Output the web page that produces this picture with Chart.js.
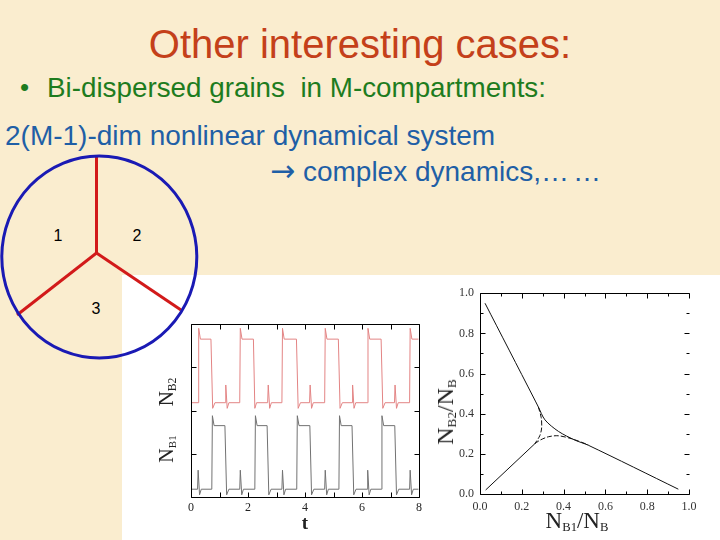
<!DOCTYPE html>
<html>
<head>
<meta charset="utf-8">
<script src="https://cdn.jsdelivr.net/npm/chart.js@4/dist/chart.umd.min.js"></script>
<style>
  html,body{margin:0;padding:0;}
  body{width:720px;height:540px;position:relative;overflow:hidden;background:#faedcf;font-family:"Liberation Sans",Arial,sans-serif;}
  .t{position:absolute;white-space:pre;line-height:1;}
  #white{position:absolute;left:122px;top:275px;width:598px;height:265px;background:#fff;}
  .serif{font-family:"Liberation Serif","DejaVu Serif",serif;color:#222;}
  .rot{position:absolute;transform:translate(-50%,-50%) rotate(-90deg);white-space:nowrap;line-height:1;}
  .ctr{position:absolute;transform:translate(-50%,-50%);white-space:nowrap;line-height:1;}
  sub{font-size:55%;vertical-align:baseline;position:relative;top:0.25em;}
  canvas{position:absolute;}
</style>
</head>
<body>
<div id="white"></div>

<div class="t" style="left:0;width:720px;text-align:center;top:24px;font-size:40px;color:#c4401a;">Other interesting cases:</div>
<div class="t" style="left:20px;top:74px;font-size:26px;color:#1e7c1e;">•</div>
<div class="t" style="left:47px;top:74px;font-size:27.8px;color:#1e7c1e;">Bi-dispersed grains  in M-compartments:</div>
<div class="t" style="left:5px;top:122px;font-size:28px;color:#1f5fa6;">2(M-1)-dim nonlinear dynamical system</div>
<div class="t" style="left:270px;top:157px;font-size:28px;color:#1f5fa6;"><span style="font-family:'DejaVu Sans';font-size:30px;line-height:28px;">→</span> complex dynamics,…<span style="font-size:14px;"> </span>…</div>

<svg style="position:absolute;left:0;top:0" width="720" height="540">
  <line x1="96.5" y1="157" x2="96.5" y2="253" stroke="#d21a1a" stroke-width="3"/>
  <line x1="96.5" y1="253" x2="17" y2="315" stroke="#d21a1a" stroke-width="3"/>
  <line x1="96.5" y1="253" x2="181" y2="310" stroke="#d21a1a" stroke-width="3"/>
  <ellipse cx="99.3" cy="257" rx="97.5" ry="101" fill="none" stroke="#1a1ab4" stroke-width="3"/>
  <text x="58" y="241" font-family="Liberation Sans, Arial" font-size="16" text-anchor="middle" fill="#000">1</text>
  <text x="137" y="241" font-family="Liberation Sans, Arial" font-size="16" text-anchor="middle" fill="#000">2</text>
  <text x="96" y="314" font-family="Liberation Sans, Arial" font-size="16" text-anchor="middle" fill="#000">3</text>
</svg>

<canvas id="c1" width="280" height="225" style="left:150px;top:315px;width:280px;height:225px;"></canvas>
<canvas id="c2" width="290" height="260" style="left:430px;top:280px;width:290px;height:260px;"></canvas>

<div class="rot serif" style="left:166px;top:392px;font-size:21px;">N<sub>B2</sub></div>
<div class="rot serif" style="left:166px;top:449px;font-size:20px;">N<sub>B1</sub></div>
<div class="ctr serif" style="left:305px;top:522px;font-size:19px;font-weight:bold;">t</div>
<div class="rot serif" style="left:445px;top:412px;font-size:24px;">N<sub>B2</sub>/N<sub>B</sub></div>
<div class="ctr serif" style="left:577px;top:520px;font-size:23px;">N<sub>B1</sub>/N<sub>B</sub></div>

<script>
// ---- left chart: time series (t, N_B2 in red, N_B1 in gray) ----
const timeTicks = [0, 2, 4, 6, 8];
const redT = [0,
  0.25,0.27,0.33, 0.70,0.76,0.84, 1.20,1.22,1.27,1.33,
  1.71,1.73,1.79, 2.19,2.24,2.30, 2.69,2.71,2.76,2.82,
  3.19,3.21,3.27, 3.70,3.76,3.84, 4.16,4.18,4.23,4.29,
  4.69,4.71,4.77, 5.17,5.23,5.31, 5.65,5.67,5.72,5.78,
  6.19,6.21,6.27, 6.67,6.73,6.81, 7.14,7.16,7.21,7.27,
  7.67,7.69,7.75, 7.98];
const redV = [2.18,
  2.18,3.90,3.65, 3.65,2.05,2.18, 2.18,2.59,2.05,2.18,
  2.18,3.90,3.65, 3.65,2.05,2.18, 2.18,2.59,2.05,2.18,
  2.18,3.90,3.65, 3.65,2.05,2.18, 2.18,2.59,2.05,2.18,
  2.18,3.90,3.65, 3.65,2.05,2.18, 2.18,2.59,2.05,2.18,
  2.18,3.90,3.65, 3.65,2.05,2.18, 2.18,2.59,2.05,2.18,
  2.18,3.90,3.65, 3.65];
const grayT = [0,
  0.23,0.25,0.30,0.36, 0.73,0.75,0.81, 1.19,1.25,1.33,
  1.71,1.73,1.78,1.84, 2.24,2.26,2.32, 2.67,2.73,2.81,
  3.19,3.21,3.26,3.32, 3.71,3.73,3.79, 4.17,4.23,4.31,
  4.69,4.71,4.76,4.82, 5.19,5.21,5.27, 5.65,5.71,5.79,
  6.18,6.20,6.25,6.31, 6.68,6.70,6.76, 7.15,7.21,7.29,
  7.67,7.69,7.74,7.80, 7.98];
const grayV = [0.18,
  0.18,0.62,0.05,0.18, 0.18,1.88,1.65, 1.65,0.05,0.18,
  0.18,0.62,0.05,0.18, 0.18,1.88,1.65, 1.65,0.05,0.18,
  0.18,0.62,0.05,0.18, 0.18,1.88,1.65, 1.65,0.05,0.18,
  0.18,0.62,0.05,0.18, 0.18,1.88,1.65, 1.65,0.05,0.18,
  0.18,0.62,0.05,0.18, 0.18,1.88,1.65, 1.65,0.05,0.18,
  0.18,0.62,0.05,0.18, 0.18];

// ---- right chart: phase portrait N_B2/N_B vs N_B1/N_B ----
const fracTicks = [0.0, 0.2, 0.4, 0.6, 0.8, 1.0];
const upperX = [0.024, 0.255, 0.279, 0.311, 0.375, 0.455, 0.518, 0.949];
const upperY = [0.950, 0.483, 0.434, 0.369, 0.312, 0.268, 0.243, 0.024];
const lowerX = [0.027, 0.262];
const lowerY = [0.020, 0.250];
const arcX   = [0.262, 0.287, 0.327, 0.375, 0.439, 0.518];
const arcY   = [0.250, 0.268, 0.285, 0.290, 0.275, 0.245];
const cuspX  = [0.279, 0.293, 0.295, 0.286, 0.262];
const cuspY  = [0.434, 0.380, 0.330, 0.290, 0.250];

const zip = (xs, ys) => xs.map((x, i) => ({x, y: ys[i]}));

const boxTicks = {
  id: 'boxTicks',
  afterDraw(chart, args, o) {
    const {ctx, chartArea: a, scales: {x, y}} = chart;
    ctx.save();
    ctx.strokeStyle = '#000';
    ctx.lineWidth = 1;
    const L = Math.round(a.left) + 0.5, R = Math.round(a.right) + 0.5,
          T = Math.round(a.top) + 0.5, B = Math.round(a.bottom) + 0.5;
    ctx.beginPath();
    if (o.box.includes('l')) { ctx.moveTo(L, T); ctx.lineTo(L, B); }
    if (o.box.includes('r')) { ctx.moveTo(R, T); ctx.lineTo(R, B); }
    if (o.box.includes('t')) { ctx.moveTo(L, T); ctx.lineTo(R, T); }
    if (o.box.includes('b')) { ctx.moveTo(L, B); ctx.lineTo(R, B); }
    let i = 0;
    for (let v = x.min; v <= x.max + 1e-9; v += o.xStep, i++) {
      const px = Math.round(x.getPixelForValue(v)) + 0.5;
      const len = (i % o.majorEvery === 0) ? o.major : o.minor;
      ctx.moveTo(px, B); ctx.lineTo(px, B - len);
      ctx.moveTo(px, T); ctx.lineTo(px, T + len);
    }
    i = 0;
    for (let v = y.min; v <= y.max + 1e-9; v += o.yStep, i++) {
      const py = Math.round(y.getPixelForValue(v)) + 0.5;
      const len = (i % o.majorEvery === 0) ? o.major : o.minor;
      ctx.moveTo(L, py); ctx.lineTo(L + len, py);
      ctx.moveTo(R, py); ctx.lineTo(R - len, py);
    }
    ctx.stroke();
    ctx.restore();
  }
};

const serif = {family: '"Liberation Serif", "DejaVu Serif", serif'};

new Chart(document.getElementById('c1'), {
  type: 'scatter',
  data: {
    datasets: [
      {data: zip(redT, redV), showLine: true, borderColor: '#e38484', borderWidth: 1, pointRadius: 0, tension: 0},
      {data: zip(grayT, grayV), showLine: true, borderColor: '#727272', borderWidth: 1, pointRadius: 0, tension: 0}
    ]
  },
  plugins: [boxTicks],
  options: {
    responsive: false, animation: false,
    layout: {padding: {top: 9, right: 11, left: 0, bottom: 0}},
    plugins: {legend: {display: false}, tooltip: {enabled: false},
      boxTicks: {box: 'lrtb', xStep: 1, yStep: 1, majorEvery: 1, major: 5, minor: 5}},
    scales: {
      x: {type: 'linear', min: 0, max: 8,
        afterFit: s => { s.height = 43; },
        afterBuildTicks: s => { s.ticks = timeTicks.map(v => ({value: v})); },
        border: {display: false}, grid: {display: false, drawTicks: false},
        ticks: {padding: 4, color: '#222', font: {...serif, size: 12}, maxRotation: 0}},
      y: {type: 'linear', min: 0, max: 4,
        afterFit: s => { s.width = 41; },
        border: {display: false}, grid: {display: false, drawTicks: false},
        ticks: {display: false}}
    }
  }
});

new Chart(document.getElementById('c2'), {
  type: 'scatter',
  data: {
    datasets: [
      {data: zip(upperX, upperY), showLine: true, borderColor: '#111', borderWidth: 1, pointRadius: 0, tension: 0.3},
      {data: zip(lowerX, lowerY), showLine: true, borderColor: '#111', borderWidth: 1, pointRadius: 0, tension: 0},
      {data: zip(arcX, arcY), showLine: true, borderColor: '#111', borderWidth: 1, pointRadius: 0, tension: 0.3, borderDash: [5, 2]},
      {data: zip(cuspX, cuspY), showLine: true, borderColor: '#111', borderWidth: 1, pointRadius: 0, tension: 0.3, borderDash: [5, 2]}
    ]
  },
  plugins: [boxTicks],
  options: {
    responsive: false, animation: false,
    layout: {padding: {top: 9, right: 31, left: 0, bottom: 0}},
    plugins: {legend: {display: false}, tooltip: {enabled: false},
      boxTicks: {box: 'ltb', xStep: 0.1, yStep: 0.1, majorEvery: 2, major: 5, minor: 3}},
    scales: {
      x: {type: 'linear', min: 0, max: 1,
        afterFit: s => { s.height = 46; },
        afterBuildTicks: s => { s.ticks = fracTicks.map(v => ({value: v})); },
        border: {display: false}, grid: {display: false, drawTicks: false},
        ticks: {padding: 6, color: '#333', font: {...serif, size: 12}, maxRotation: 0,
          callback: v => Number(v).toFixed(1)}},
      y: {type: 'linear', min: 0, max: 1,
        afterFit: s => { s.width = 50; },
        afterBuildTicks: s => { s.ticks = fracTicks.map(v => ({value: v})); },
        border: {display: false}, grid: {display: false, drawTicks: false},
        ticks: {padding: 6, color: '#333', font: {...serif, size: 12},
          callback: v => Number(v).toFixed(1)}}
    }
  }
});
</script>
</body>
</html>
